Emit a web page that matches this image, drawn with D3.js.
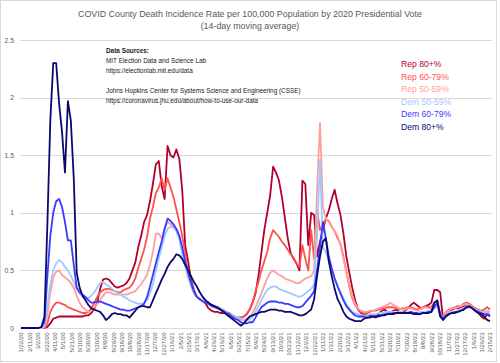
<!DOCTYPE html>
<html>
<head>
<meta charset="utf-8">
<script src="https://cdn.jsdelivr.net/npm/d3@7"></script>
<style>
  body { margin: 0; background: #fff; }
  svg { font-family: "Liberation Sans", Arial, sans-serif; }
</style>
</head>
<body>
<div id="chart"></div>
<script>
// weekly samples, starting 1/22/20
const startDate = '1/22/20'
const stepDays = 7

const tickLabels = ['1/22/20','2/11/20','3/2/20','3/22/20','4/11/20','5/1/20','5/21/20','6/10/20','6/30/20','7/20/20',
  '8/9/20','8/29/20','9/18/20','10/8/20','10/28/20','11/17/20','12/7/20','12/27/20','1/16/21','2/5/21',
  '2/25/21','3/17/21','4/6/21','4/26/21','5/16/21','6/5/21','6/25/21','7/15/21','8/4/21','8/24/21',
  '9/13/21','10/3/21','10/23/21','11/12/21','12/2/21','12/22/21','1/11/22','1/31/22','2/20/22','3/12/22',
  '4/1/22','4/21/22','5/11/22','5/31/22','6/20/22','7/10/22','7/30/22','8/19/22','9/8/22','9/28/22',
  '10/18/22','11/7/22','11/27/22','12/17/22','1/6/23','1/26/23','2/15/23']

const yTicks = [0, 0.5, 1, 1.5, 2, 2.5]

const seriesNames = ['Rep 80+%', 'Rep 60-79%', 'Rep 50-59%', 'Dem 50-59%', 'Dem 60-79%', 'Dem 80+%']
const seriesColors = ['#b2002d', '#ff5050', '#ff9e9e', '#9ecbff', '#3a3aff', '#0a0a6e']

const rep80 = [0,0,0,0,0,0,0,
  0,0,0.01,0.04,0.08,0.09,0.1,0.1,0.1,0.1,0.1,0.1,0.1,0.1,
  0.1,0.11,0.11,0.13,0.17,0.22,0.34,0.42,0.43,
  0.42,0.39,0.36,0.35,0.36,0.37,0.39,0.43,0.5,0.57,
  0.7,0.8,0.92,0.98,1.1,1.25,1.42,1.45,1.23,1.12,
  1.58,1.5,1.48,1.55,1.47,1.2,0.72,0.58,0.42,0.33,
  0.27,0.25,0.24,0.21,0.17,0.15,0.14,0.14,0.13,0.13,
  0.13,0.12,0.11,0.1,0.09,0.09,0.1,0.12,0.16,0.22,
  0.3,0.45,0.65,0.85,1.0,1.15,1.4,1.35,1.28,1.14,
  0.96,0.78,0.65,0.6,0.56,0.5,1.28,1.25,0.72,1.0,
  0.98,0.62,0.75,0.85,0.95,1.02,1.12,1.2,1.08,0.98,
  0.82,0.62,0.48,0.35,0.24,0.16,0.13,0.12,0.12,0.11,
  0.1,0.09,0.12,0.15,0.16,0.14,0.13,0.15,0.16,0.14,
  0.13,0.15,0.17,0.2,0.22,0.2,0.18,0.17,0.19,0.2,
  0.22,0.33,0.33,0.31,0.07,0.12,0.15,0.16,0.17,0.17,
  0.18,0.19,0.2,0.19,0.17,0.15,0.13,0.1,0.08,0.12,0.1]

const rep60 = [0,0,0,0,0,0,0,
  0,0,0.04,0.14,0.19,0.22,0.22,0.21,0.2,0.18,0.17,0.16,0.15,0.14,
  0.13,0.13,0.14,0.17,0.22,0.27,0.31,0.33,0.34,
  0.34,0.33,0.32,0.31,0.31,0.33,0.34,0.35,0.38,0.43,
  0.52,0.6,0.68,0.79,0.95,1.05,1.17,1.22,1.3,1.2,
  1.3,1.22,1.14,1.03,0.92,0.8,0.65,0.48,0.37,0.3,
  0.27,0.25,0.24,0.22,0.21,0.2,0.19,0.18,0.17,0.15,
  0.14,0.13,0.11,0.1,0.09,0.09,0.1,0.12,0.16,0.22,
  0.32,0.4,0.5,0.58,0.66,0.78,0.85,0.82,0.79,0.75,
  0.72,0.68,0.64,0.61,0.56,0.53,0.72,0.6,0.5,0.85,
  0.6,1.02,0.85,0.9,0.94,0.93,0.88,0.84,0.78,0.73,
  0.62,0.49,0.36,0.26,0.2,0.16,0.14,0.13,0.13,0.14,
  0.15,0.15,0.16,0.17,0.17,0.18,0.18,0.18,0.17,0.16,
  0.17,0.17,0.18,0.18,0.17,0.16,0.17,0.18,0.19,0.18,
  0.18,0.22,0.24,0.13,0.1,0.14,0.16,0.17,0.18,0.19,
  0.19,0.21,0.22,0.21,0.19,0.17,0.16,0.15,0.16,0.18,0.16]

const rep50 = [0,0,0,0,0,0,0,
  0,0.01,0.12,0.3,0.44,0.49,0.5,0.46,0.44,0.42,0.39,0.35,0.28,0.22,
  0.18,0.16,0.14,0.15,0.18,0.21,0.24,0.28,0.31,
  0.31,0.3,0.29,0.29,0.29,0.29,0.29,0.3,0.31,0.32,
  0.35,0.38,0.42,0.46,0.55,0.66,0.82,0.82,0.78,0.86,
  0.92,0.9,0.88,0.86,0.8,0.7,0.6,0.47,0.39,0.31,
  0.27,0.25,0.24,0.22,0.21,0.2,0.19,0.17,0.16,0.14,
  0.13,0.11,0.1,0.08,0.07,0.07,0.07,0.08,0.09,0.13,
  0.18,0.24,0.3,0.37,0.43,0.48,0.5,0.48,0.46,0.45,
  0.43,0.42,0.41,0.4,0.39,0.39,0.41,0.43,0.44,0.45,
  0.5,1.2,1.78,1.05,0.95,0.92,0.88,0.84,0.8,0.72,
  0.6,0.48,0.38,0.28,0.21,0.17,0.15,0.14,0.14,0.15,
  0.15,0.16,0.17,0.18,0.19,0.2,0.22,0.2,0.19,0.17,
  0.16,0.16,0.17,0.17,0.16,0.15,0.16,0.17,0.18,0.17,
  0.17,0.2,0.22,0.12,0.09,0.13,0.15,0.17,0.17,0.18,
  0.19,0.2,0.21,0.2,0.18,0.16,0.15,0.14,0.14,0.15,0.14]

const dem50 = [0,0,0,0,0,0,0,
  0,0.02,0.2,0.38,0.5,0.56,0.59,0.57,0.53,0.5,0.45,0.4,0.34,0.3,
  0.27,0.26,0.26,0.28,0.31,0.35,0.39,0.4,0.38,
  0.36,0.34,0.32,0.3,0.29,0.27,0.26,0.24,0.23,0.22,
  0.21,0.21,0.22,0.24,0.3,0.38,0.5,0.6,0.7,0.8,
  0.86,0.88,0.87,0.84,0.77,0.64,0.53,0.44,0.37,0.31,
  0.27,0.25,0.24,0.23,0.22,0.2,0.19,0.18,0.17,0.16,
  0.14,0.12,0.11,0.1,0.09,0.08,0.07,0.07,0.07,0.1,
  0.14,0.19,0.24,0.29,0.33,0.35,0.36,0.36,0.34,0.33,
  0.32,0.31,0.3,0.29,0.28,0.27,0.28,0.3,0.32,0.34,
  0.38,0.8,1.46,0.7,0.66,0.58,0.5,0.43,0.37,0.31,
  0.26,0.21,0.17,0.14,0.13,0.12,0.11,0.11,0.11,0.12,
  0.12,0.12,0.13,0.13,0.14,0.14,0.14,0.14,0.13,0.14,
  0.14,0.13,0.14,0.14,0.13,0.13,0.14,0.14,0.14,0.15,
  0.15,0.17,0.2,0.1,0.08,0.11,0.13,0.14,0.14,0.15,
  0.16,0.17,0.19,0.19,0.17,0.16,0.15,0.14,0.14,0.13,0.13]

const dem60 = [0,0,0,0,0,0,0,
  0.01,0.05,0.45,0.8,1.0,1.1,1.12,1.05,0.92,0.76,0.76,0.55,0.35,0.31,
  0.29,0.27,0.24,0.22,0.22,0.23,0.23,0.22,0.21,
  0.2,0.19,0.18,0.17,0.16,0.16,0.15,0.15,0.16,0.17,
  0.18,0.19,0.21,0.27,0.36,0.46,0.56,0.66,0.75,0.86,
  0.95,0.93,0.9,0.86,0.8,0.7,0.58,0.48,0.39,0.32,
  0.27,0.25,0.23,0.22,0.21,0.19,0.18,0.17,0.16,0.15,
  0.13,0.12,0.1,0.08,0.07,0.05,0.04,0.04,0.05,0.05,
  0.09,0.14,0.18,0.2,0.22,0.23,0.23,0.23,0.22,0.22,
  0.21,0.21,0.2,0.19,0.18,0.18,0.19,0.22,0.25,0.28,
  0.32,0.5,0.7,0.92,0.78,0.62,0.52,0.43,0.36,0.3,
  0.24,0.19,0.16,0.13,0.11,0.1,0.1,0.1,0.09,0.1,
  0.1,0.1,0.11,0.11,0.12,0.12,0.12,0.13,0.13,0.13,
  0.13,0.13,0.13,0.14,0.13,0.13,0.12,0.13,0.13,0.14,
  0.14,0.18,0.22,0.12,0.08,0.11,0.12,0.13,0.14,0.14,
  0.15,0.16,0.18,0.18,0.17,0.15,0.14,0.13,0.12,0.12,0.11]

const dem80 = [0,0,0,0,0,0,0,
  0.01,0.1,0.9,1.8,2.3,2.3,1.95,1.7,1.35,1.97,1.8,1.3,0.48,0.35,
  0.28,0.24,0.2,0.17,0.16,0.15,0.14,0.11,0.07,
  0.09,0.12,0.13,0.12,0.12,0.11,0.11,0.09,0.12,0.15,
  0.18,0.19,0.19,0.18,0.18,0.24,0.3,0.36,0.42,0.47,
  0.53,0.57,0.6,0.64,0.63,0.6,0.55,0.5,0.45,0.4,
  0.36,0.31,0.27,0.24,0.22,0.2,0.19,0.18,0.16,0.14,
  0.12,0.1,0.08,0.06,0.04,0.02,0.04,0.07,0.1,0.11,
  0.12,0.13,0.14,0.14,0.15,0.16,0.16,0.16,0.15,0.15,
  0.14,0.14,0.14,0.13,0.12,0.11,0.11,0.12,0.14,0.16,
  0.25,0.45,0.62,0.75,0.78,0.58,0.45,0.34,0.25,0.2,
  0.14,0.1,0.08,0.07,0.06,0.06,0.06,0.08,0.09,0.09,
  0.1,0.1,0.1,0.11,0.11,0.12,0.12,0.12,0.13,0.13,
  0.13,0.13,0.13,0.13,0.12,0.12,0.12,0.13,0.13,0.13,
  0.14,0.22,0.24,0.1,0.07,0.1,0.12,0.13,0.13,0.14,
  0.15,0.16,0.18,0.19,0.17,0.15,0.13,0.12,0.1,0.07,0.06]

const allSeries = [rep80, rep60, rep50, dem50, dem60, dem80]

const sourceLines = [
  {text: 'Data Sources:', bold: true},
  {text: 'MIT Election Data and Science Lab'},
  {text: 'https://electionlab.mit.edu/data'},
  {text: ''},
  {text: 'Johns Hopkins Center for Systems Science and Engineering (CSSE)'},
  {text: 'https://coronavirus.jhu.edu/about/how-to-use-our-data'}
]

let width = 500, height = 363
let margin = {top: 40, right: 8, bottom: 35, left: 20}

const parse = d3.timeParse('%m/%d/%y')
const start = parse(startDate)
const dates = rep80.map((d, i) => d3.timeDay.offset(start, i * stepDays))
const tickDates = tickLabels.map(parse)

var svg = d3.select('#chart').append('svg')
  .attr('width', width)
  .attr('height', height)

svg.append('rect')
  .attr('x', 0.5).attr('y', 0.5)
  .attr('width', width - 4).attr('height', height - 2)
  .attr('fill', '#fff')
  .attr('stroke', '#d9d9d9')

let xScale = d3.scaleTime()
  .domain([tickDates[0], tickDates[tickDates.length - 1]])
  .range([21, 490])

let yScale = d3.scaleLinear()
  .domain([0, 2.5])
  .range([328, 40])

// gridlines
svg.append('g')
  .selectAll('line')
  .data(yTicks)
  .enter()
  .append('line')
  .attr('x1', margin.left)
  .attr('x2', width - margin.right)
  .attr('y1', d => Math.round(yScale(d)) + 0.5)
  .attr('y2', d => Math.round(yScale(d)) + 0.5)
  .attr('stroke', '#d9d9d9')
  .attr('stroke-width', 1)

// Y Axis
let yAxis = svg.append('g')
  .attr('transform', `translate(${margin.left}, 0)`)
  .call(d3.axisLeft(yScale).tickValues(yTicks).tickSize(0).tickPadding(6).tickFormat(d => String(d)))
yAxis.select('.domain').remove()
yAxis.selectAll('text')
  .attr('fill', '#595959')
  .style('font-size', '6.8px')

// X Axis
let xAxis = svg.append('g')
  .attr('transform', `translate(0, ${Math.round(yScale(0)) + 0.5})`)
  .call(d3.axisBottom(xScale).tickValues(tickDates).tickSize(0).tickFormat((d, i) => tickLabels[i]))
xAxis.select('.domain').remove()
xAxis.selectAll('.tick text')
  .attr('fill', '#595959')
  .style('font-size', '6px')
  .style('text-anchor', 'end')
  .attr('transform', 'rotate(-90)')
  .attr('x', -4)
  .attr('y', 0)
  .attr('dy', '0.32em')

// lines
let line = d3.line()
  .x((d, i) => xScale(dates[i]))
  .y(d => yScale(d))

svg.append('g')
  .selectAll('path')
  .data(allSeries)
  .enter()
  .append('path')
  .attr('d', d => line(d))
  .attr('fill', 'none')
  .attr('stroke', (d, i) => seriesColors[i])
  .attr('stroke-width', 1.8)
  .attr('stroke-linejoin', 'round')

// title
svg.append('text')
  .attr('x', 250).attr('y', 16.5)
  .attr('text-anchor', 'middle')
  .attr('fill', '#595959')
  .style('font-size', '8.9px')
  .text('COVID County Death Incidence Rate per 100,000 Population by 2020 Presidential Vote')

svg.append('text')
  .attr('x', 250).attr('y', 28.5)
  .attr('text-anchor', 'middle')
  .attr('fill', '#595959')
  .style('font-size', '8.9px')
  .text('(14-day moving average)')

// data sources note
svg.append('g')
  .selectAll('text')
  .data(sourceLines)
  .enter()
  .append('text')
  .attr('x', 106)
  .attr('y', (d, i) => 53 + i * 10)
  .attr('fill', '#1a1a1a')
  .style('font-size', '6.4px')
  .style('font-weight', d => d.bold ? 'bold' : 'normal')
  .text(d => d.text)

// legend
svg.append('g')
  .selectAll('text')
  .data(seriesNames)
  .enter()
  .append('text')
  .attr('x', 401)
  .attr('y', (d, i) => 67 + i * 12.6)
  .attr('fill', (d, i) => seriesColors[i])
  .style('font-size', '8.6px')
  .text(d => d)
</script>
</body>
</html>
